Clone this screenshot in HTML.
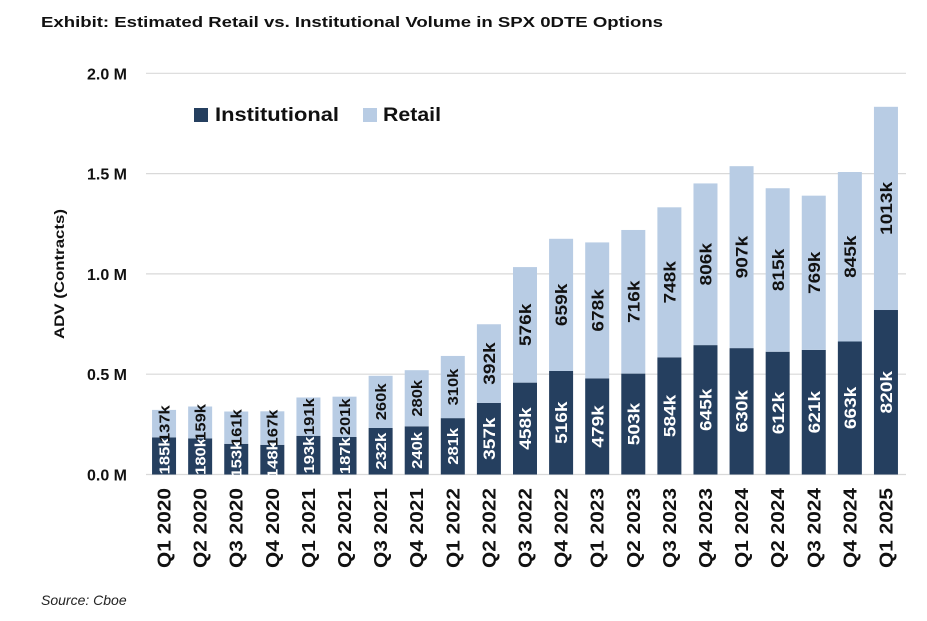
<!DOCTYPE html>
<html><head><meta charset="utf-8"><style>
html,body{margin:0;padding:0;background:#fff;}
svg text{font-family:"Liberation Sans",sans-serif;}
</style></head><body>
<svg id="chart" width="927" height="616" viewBox="0 0 927 616" xmlns="http://www.w3.org/2000/svg">
<text x="41" y="27" font-size="15" font-weight="bold" fill="#111" textLength="622" lengthAdjust="spacingAndGlyphs">Exhibit: Estimated Retail vs. Institutional Volume in SPX 0DTE Options</text>
<g id="grid"></g>
<g id="bars"></g>
<g id="xlabels"></g>
<text transform="translate(64,274) rotate(-90)" text-anchor="middle" font-size="14" font-weight="bold" fill="#111" textLength="130" lengthAdjust="spacingAndGlyphs">ADV (Contracts)</text>
<rect x="194" y="108" width="14" height="14" fill="#253f5f"/>
<text x="215" y="121" font-size="19" font-weight="bold" fill="#111" textLength="124" lengthAdjust="spacingAndGlyphs">Institutional</text>
<rect x="363" y="108" width="14" height="14" fill="#b8cce4"/>
<text x="383" y="121" font-size="19" font-weight="bold" fill="#111" textLength="58" lengthAdjust="spacingAndGlyphs">Retail</text>
<text x="41" y="605" font-size="14" font-style="italic" fill="#222">Source: Cboe</text>
</svg>
<script>
const categories=["Q1 2020","Q2 2020","Q3 2020","Q4 2020","Q1 2021","Q2 2021","Q3 2021","Q4 2021","Q1 2022","Q2 2022","Q3 2022","Q4 2022","Q1 2023","Q2 2023","Q3 2023","Q4 2023","Q1 2024","Q2 2024","Q3 2024","Q4 2024","Q1 2025"];
const institutional=[185,180,153,148,193,187,232,240,281,357,458,516,479,503,584,645,630,612,621,663,820];
const retail=[137,159,161,167,191,201,260,280,310,392,576,659,678,716,748,806,907,815,769,845,1013];
const yTicks=[0,0.5,1.0,1.5,2.0];
const yTickLabels=["0.0 M","0.5 M","1.0 M","1.5 M","2.0 M"];
const NS="http://www.w3.org/2000/svg";
const x0=146,x1=904,y0=474.5,pxPerM=200.6;
const band=(x1-x0)/categories.length, bw=24;
function y(vK){return y0-vK/1000*pxPerM;}
function xc(i){return x0+band*(i+0.5);}
function mk(tag,attrs,parent){const e=document.createElementNS(NS,tag);for(const k in attrs)e.setAttribute(k,attrs[k]);parent.appendChild(e);return e;}
const grid=document.getElementById('grid');
yTicks.forEach((t,i)=>{
  const gl=mk('line',{x1:x0,x2:x1+2,y1:y(t*1000),y2:y(t*1000),stroke:'#d9d9d9','stroke-width':1.2},grid);
  
  
  const tl=mk('text',{x:127,y:y(t*1000)+6,'text-anchor':'end','font-size':16,'font-weight':'bold',fill:'#111'},grid);
  tl.textContent=yTickLabels[i];
  
  
});
const bars=document.getElementById('bars'), xl=document.getElementById('xlabels');
categories.forEach((c,i)=>{
  const cx=xc(i), inst=institutional[i], ret=retail[i];
  const r1=mk('rect',{x:cx-bw/2,y:y(inst),width:bw,height:y0-y(inst),fill:'#253f5f'},bars);
  
  
  const r2=mk('rect',{x:cx-bw/2,y:y(inst+ret),width:bw,height:y(inst)-y(inst+ret),fill:'#b8cce4'},bars);
  
  
  const small=inst+ret<700;
  const fs=small?15:17, cw=small?9.2:10.6;
  const m1=(y0+y(inst))/2, m2=(y(inst)+y(inst+ret))/2;
  const s1=inst+'k', s2=ret+'k';
  const t1=mk('text',{transform:`translate(${cx+fs*0.36},${m1}) rotate(-90)`,'text-anchor':'middle','font-size':fs,'font-weight':'bold',fill:'#fff',textLength:s1.length*cw,lengthAdjust:'spacingAndGlyphs'},bars);
  t1.textContent=s1;
  
  
  const t2=mk('text',{transform:`translate(${cx+fs*0.36},${m2}) rotate(-90)`,'text-anchor':'middle','font-size':fs,'font-weight':'bold',fill:'#111',textLength:s2.length*cw,lengthAdjust:'spacingAndGlyphs'},bars);
  t2.textContent=s2;
  
  
  const xt=mk('text',{transform:`translate(${cx+6.5},488) rotate(-90)`,'text-anchor':'end','font-size':18,'font-weight':'bold',fill:'#111',textLength:80,lengthAdjust:'spacingAndGlyphs'},xl);
  xt.textContent=c;
  
  
});
</script>
</body></html>
